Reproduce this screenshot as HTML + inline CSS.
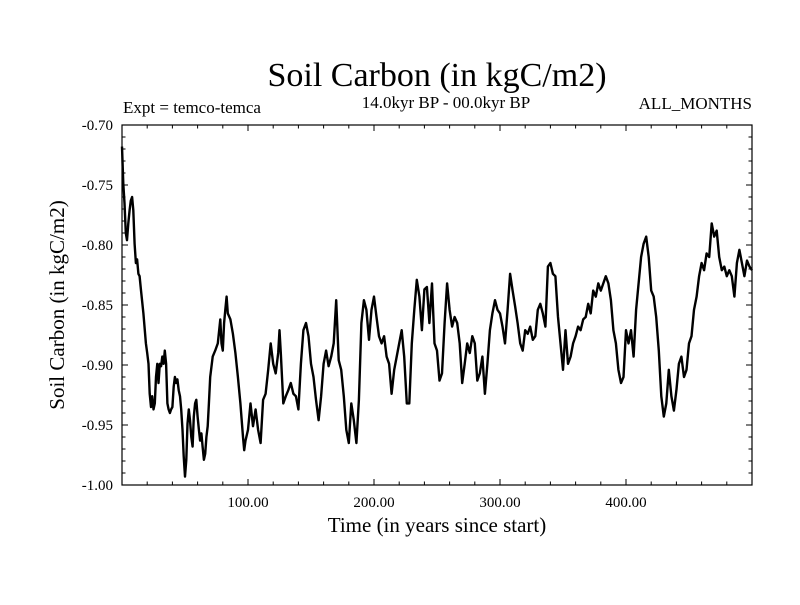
<!DOCTYPE html>
<html><head><meta charset="utf-8"><style>
body{margin:0;background:#fff;}
svg text{font-family:"Liberation Serif",serif;fill:#000;}
</style></head><body>
<svg width="800" height="600" viewBox="0 0 800 600" xmlns="http://www.w3.org/2000/svg">
<rect width="800" height="600" fill="#fff"/>
<text x="437" y="86" font-size="34" text-anchor="middle">Soil Carbon (in kgC/m2)</text>
<text x="123" y="113" font-size="17">Expt = temco-temca</text>
<text x="446" y="108" font-size="17" text-anchor="middle">14.0kyr BP - 00.0kyr BP</text>
<text x="752" y="109" font-size="17" text-anchor="end">ALL_MONTHS</text>
<text x="437" y="532" font-size="21" text-anchor="middle">Time (in years since start)</text>
<text x="0" y="0" font-size="21" text-anchor="middle" transform="translate(64,305) rotate(-90)">Soil Carbon (in kgC/m2)</text>
<g id="axes"></g>
<path id="series" fill="none" stroke="#000" stroke-width="2.4" stroke-linejoin="round"/>
<rect x="122" y="125" width="630" height="360" fill="none" stroke="#000" stroke-width="1.2"/>
</svg>
<script>
const times = [0,1,2,3,4,5,6,7,8,9,10,11,12,13,14,15,17,19,20,21,22,23,24,25,26,27,28,29,30,31,32,33,34,35,36,37,38,39,40,41,42,43,44,45,46,47,48,49,50,51,52,53,54,55,56,57,58,59,60,61,62,63,64,65,66,67,68,69,70,72,74,76,78,79,80,81,82,83,84,86,88,90,92,94,96,97,98,100,102,104,106,108,110,112,114,116,118,120,122,124,125,126,128,130,132,134,136,138,140,142,144,146,148,150,152,154,156,158,160,162,164,166,168,170,172,174,176,178,180,182,184,186,188,190,192,194,196,198,200,202,204,206,208,210,212,214,216,218,220,222,224,226,228,230,232,234,236,238,240,242,244,246,248,250,252,254,256,258,260,262,264,266,268,270,272,274,276,278,280,282,284,286,288,290,292,294,296,298,300,302,304,306,308,310,312,314,316,318,320,322,324,326,328,330,332,334,336,338,340,342,344,346,348,350,352,354,356,358,360,362,364,366,368,370,372,374,376,378,380,382,384,386,388,390,392,394,396,398,400,402,404,406,408,410,412,414,416,418,420,422,424,426,428,430,432,434,436,438,440,442,444,446,448,450,452,454,456,458,460,462,464,466,468,470,472,474,476,478,480,482,484,486,488,490,492,494,496,498,500];
const carbon = [-0.718,-0.749,-0.765,-0.790,-0.796,-0.782,-0.771,-0.763,-0.760,-0.771,-0.799,-0.815,-0.812,-0.824,-0.826,-0.837,-0.857,-0.882,-0.890,-0.899,-0.924,-0.935,-0.926,-0.937,-0.932,-0.910,-0.899,-0.915,-0.899,-0.901,-0.893,-0.899,-0.888,-0.899,-0.932,-0.937,-0.940,-0.937,-0.935,-0.918,-0.910,-0.915,-0.912,-0.921,-0.926,-0.937,-0.954,-0.976,-0.993,-0.979,-0.949,-0.937,-0.946,-0.960,-0.968,-0.943,-0.932,-0.929,-0.943,-0.954,-0.963,-0.957,-0.968,-0.979,-0.974,-0.960,-0.951,-0.932,-0.910,-0.893,-0.888,-0.882,-0.862,-0.882,-0.888,-0.865,-0.854,-0.843,-0.857,-0.862,-0.874,-0.890,-0.910,-0.932,-0.960,-0.971,-0.963,-0.954,-0.932,-0.951,-0.937,-0.954,-0.965,-0.929,-0.924,-0.904,-0.882,-0.899,-0.907,-0.890,-0.871,-0.890,-0.932,-0.926,-0.921,-0.915,-0.924,-0.926,-0.937,-0.899,-0.871,-0.865,-0.876,-0.899,-0.910,-0.929,-0.946,-0.926,-0.899,-0.888,-0.901,-0.893,-0.882,-0.846,-0.896,-0.904,-0.926,-0.954,-0.965,-0.932,-0.946,-0.965,-0.929,-0.865,-0.846,-0.854,-0.879,-0.854,-0.843,-0.860,-0.876,-0.882,-0.876,-0.893,-0.899,-0.924,-0.904,-0.893,-0.882,-0.871,-0.893,-0.932,-0.932,-0.882,-0.854,-0.829,-0.843,-0.871,-0.837,-0.835,-0.865,-0.832,-0.882,-0.888,-0.913,-0.907,-0.865,-0.832,-0.854,-0.868,-0.860,-0.865,-0.882,-0.915,-0.899,-0.882,-0.890,-0.876,-0.882,-0.913,-0.907,-0.893,-0.924,-0.899,-0.871,-0.857,-0.846,-0.854,-0.857,-0.868,-0.882,-0.854,-0.824,-0.838,-0.851,-0.865,-0.882,-0.888,-0.871,-0.874,-0.868,-0.879,-0.876,-0.854,-0.849,-0.857,-0.868,-0.818,-0.815,-0.824,-0.826,-0.860,-0.882,-0.904,-0.871,-0.899,-0.893,-0.882,-0.876,-0.868,-0.871,-0.862,-0.860,-0.849,-0.857,-0.838,-0.843,-0.832,-0.838,-0.832,-0.826,-0.832,-0.846,-0.871,-0.882,-0.904,-0.915,-0.910,-0.871,-0.882,-0.871,-0.893,-0.854,-0.832,-0.810,-0.799,-0.793,-0.810,-0.838,-0.843,-0.860,-0.888,-0.926,-0.943,-0.932,-0.904,-0.926,-0.938,-0.921,-0.899,-0.893,-0.910,-0.904,-0.882,-0.876,-0.854,-0.843,-0.826,-0.815,-0.821,-0.807,-0.810,-0.782,-0.793,-0.788,-0.810,-0.821,-0.818,-0.826,-0.821,-0.826,-0.843,-0.815,-0.804,-0.815,-0.826,-0.813,-0.818,-0.821];
const xTicks = [100,200,300,400];
const xTickLabels = ["100.00","200.00","300.00","400.00"];
const yTicks = [-0.70,-0.75,-0.80,-0.85,-0.90,-0.95,-1.00];
const yTickLabels = ["-0.70","-0.75","-0.80","-0.85","-0.90","-0.95","-1.00"];

const L=122,R=752,T=125,B=485;
const xs = t => L + (t-0)/(500-0)*(R-L);
const ys = v => T + (-0.70 - v)/(0.30)*(B-T);
const NS='http://www.w3.org/2000/svg';
const axes=document.getElementById('axes');
function line(x1,y1,x2,y2,name){
  const l=document.createElementNS(NS,'line');
  l.setAttribute('x1',x1);l.setAttribute('y1',y1);l.setAttribute('x2',x2);l.setAttribute('y2',y2);
  l.setAttribute('stroke','#000');l.setAttribute('stroke-width','1');
  
  
  axes.appendChild(l);
}
function text(x,y,s,anchor,name){
  const t=document.createElementNS(NS,'text');
  t.setAttribute('x',x);t.setAttribute('y',y);t.setAttribute('font-size','15');t.setAttribute('text-anchor',anchor);
  t.textContent=s;
  
  
  axes.appendChild(t);
}
for(let t=20;t<500;t+=20){
  const major=t%100===0, len=major?6:3.5, x=xs(t);
  line(x,B,x,B-len,'x-tick');
  line(x,T,x,T+len,'x-tick-top');
}
for(let k=1;k<30;k++){
  const v=-0.70-k*0.01, major=k%5===0, len=major?6:3.5, y=ys(v);
  line(L,y,L+len,y,'y-tick');
  line(R,y,R-len,y,'y-tick-right');
}
xTicks.forEach((t,i)=>text(xs(t),507,xTickLabels[i],'middle','x-tick-label'));
yTicks.forEach((v,i)=>text(113,ys(v)+5,yTickLabels[i],'end','y-tick-label'));
let d='';
times.forEach((t,i)=>{d+=(i?'L':'M')+xs(t).toFixed(1)+','+ys(carbon[i]).toFixed(1);});
document.getElementById('series').setAttribute('d',d);
</script>
</body></html>
